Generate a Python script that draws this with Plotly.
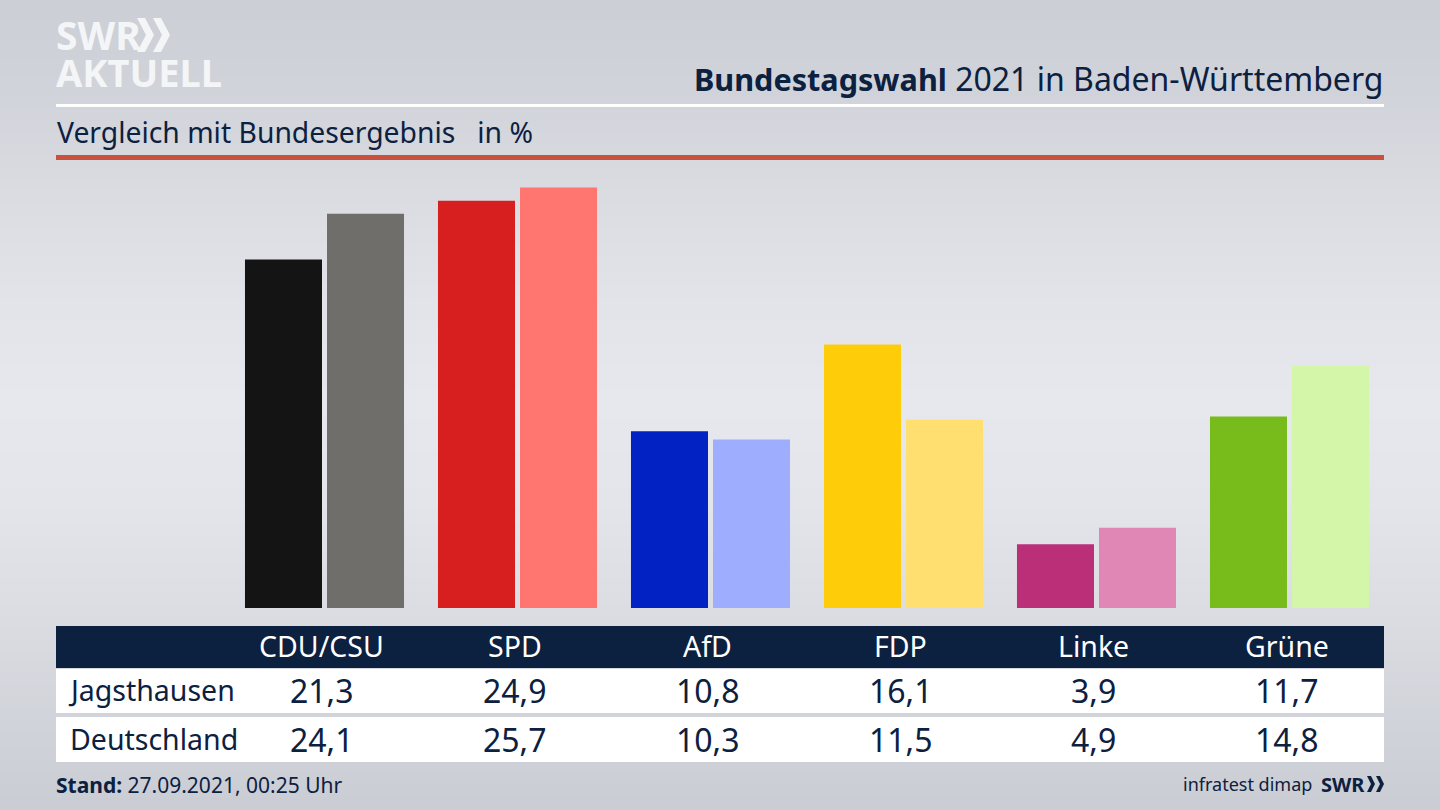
import plotly.graph_objects as go

W, H = 1440, 810
FONT = "Noto Sans"
NAVY = "#0c2040"
LOGO = "#f4f5f7"

parties = ["CDU/CSU", "SPD", "AfD", "FDP", "Linke", "Grüne"]
jagsthausen = [21.3, 24.9, 10.8, 16.1, 3.9, 11.7]
deutschland = [24.1, 25.7, 10.3, 11.5, 4.9, 14.8]
colors_local = ["#141414", "#d71f1f", "#0222c4", "#ffcc0a", "#bb2e78", "#78bc1c"]
colors_national = ["#6f6e6b", "#ff7570", "#9fadff", "#ffdf70", "#e087b6", "#d3f6a8"]

# background brightness from top to bottom of the page
bg_y = [0, 100, 200, 300, 400, 500, 600, 700, 810]
bg_z = [0.12, 0.3, 0.6, 0.85, 1.0, 0.9, 0.65, 0.35, 0.05]


def px(x):
    return x / W


def py(y):
    return 1 - y / H


def rect(x0, y0, x1, y1, color):
    return dict(type="rect", xref="paper", yref="paper", x0=px(x0), x1=px(x1),
                y0=py(y0), y1=py(y1), fillcolor=color, line_width=0)


def chevron(x, y0, y1, t, d, color):
    # logo arrow, x and y are page pixels on the background axes
    ym = (y0 + y1) / 2
    path = (f"M {x} {y0} L {x + t} {y0} L {x + t + d} {ym} L {x + t} {y1} "
            f"L {x} {y1} L {x + d} {ym} Z")
    return dict(type="path", xref="x", yref="y", path=path, fillcolor=color, line_width=0)


def label(x, y, text, size, color=NAVY, anchor="left", **kw):
    return dict(xref="paper", yref="paper", x=px(x), y=py(y), text=text, showarrow=False,
                xanchor=anchor, yanchor="middle", font=dict(family=FONT, size=size, color=color), **kw)


def cell(party, y, text, size, color=NAVY):
    # table columns sit 3px left of the bar groups
    return dict(xref="x2", yref="paper", x=party, y=py(y), text=text, showarrow=False, xshift=-3,
                xanchor="center", yanchor="middle", font=dict(family=FONT, size=size, color=color))


def fmt(v):
    return f"{v:.1f}".replace(".", ",")


fig = go.Figure()

fig.add_trace(go.Heatmap(
    x=[0, W], y=bg_y, z=[[v, v] for v in bg_z], zmin=0, zmax=1, zsmooth="best",
    colorscale=[[0, "#c8cbd2"], [1, "#e7e8ed"]], showscale=False, hoverinfo="skip",
    xaxis="x", yaxis="y",
))
fig.add_trace(go.Bar(x=parties, y=jagsthausen, name="Jagsthausen",
                     marker=dict(color=colors_local, line_width=0), xaxis="x2", yaxis="y2"))
fig.add_trace(go.Bar(x=parties, y=deutschland, name="Deutschland",
                     marker=dict(color=colors_national, line_width=0), xaxis="x2", yaxis="y2"))

shapes = [
    rect(56, 104, 1384, 107, "#ffffff"),
    rect(56, 155, 1384, 160, "#c9503f"),
    rect(56, 626, 1384, 668, NAVY),
    rect(56, 669, 1384, 713, "#ffffff"),
    rect(56, 717, 1384, 762, "#ffffff"),
    chevron(137, 18, 52, 8, 9, LOGO),
    chevron(153, 18, 52, 8, 9, LOGO),
    chevron(1367, 776, 792, 4, 4, NAVY),
    chevron(1376, 776, 792, 4, 4, NAVY),
]

annotations = [
    label(54, 35, "<b>SWR</b>", 39, LOGO),
    label(54, 72, "<b>AKTUELL</b>", 38, LOGO),
    label(1385, 78, '<span style="font-size:30.6px"><b>Bundestagswahl</b></span> 2021 in Baden-Württemberg', 32, anchor="right"),
    label(55, 132, "Vergleich mit Bundesergebnis&nbsp;&nbsp;&nbsp;in %", 28.3),
    label(66, 690, "Jagsthausen", 28.5),
    label(68, 739, "Deutschland", 28.5),
    label(54, 785, "<b>Stand:</b> 27.09.2021, 00:25 Uhr", 21),
    label(1314, 784, "infratest dimap", 18, anchor="right"),
    label(1367, 784, "<b>SWR</b>", 20, anchor="right"),
]
for i, party in enumerate(parties):
    annotations.append(cell(party, 646, party, 28.5, "#ffffff"))
    annotations.append(cell(party, 690, fmt(jagsthausen[i]), 32))
    annotations.append(cell(party, 739, fmt(deutschland[i]), 32))

fig.update_layout(
    width=W, height=H, margin=dict(l=0, r=0, t=0, b=0),
    paper_bgcolor="#d8dae0", plot_bgcolor="rgba(0,0,0,0)",
    showlegend=False, barmode="group", bargap=0.15, bargroupgap=0.061,
    shapes=shapes, annotations=annotations,
    xaxis=dict(domain=[0, 1], range=[0, W], visible=False, fixedrange=True),
    yaxis=dict(domain=[0, 1], range=[H, 0], visible=False, fixedrange=True),
    xaxis2=dict(domain=[px(228), px(1386)], anchor="y2", type="category", categoryorder="array",
                categoryarray=parties, range=[-0.5, 5.5], visible=False, fixedrange=True),
    yaxis2=dict(domain=[py(608), py(158)], anchor="x2", range=[0, 450 / 16.36], visible=False, fixedrange=True),
)

fig.write_html("out.html", config=dict(displayModeBar=False), post_script="document.body.style.margin='0';")
